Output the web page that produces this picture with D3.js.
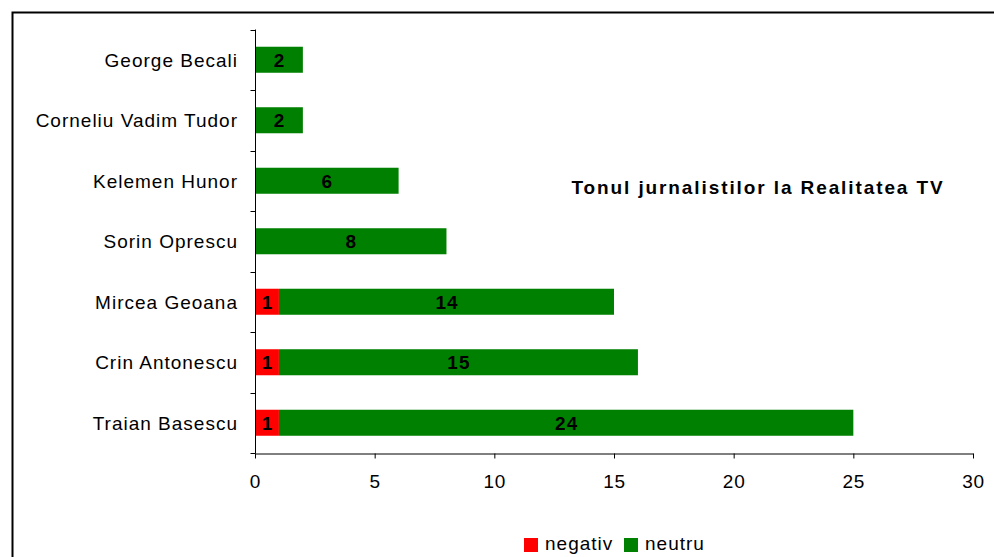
<!DOCTYPE html>
<html>
<head>
<meta charset="utf-8">
<script src="https://cdn.jsdelivr.net/npm/d3@7"></script>
<style>
  body { margin: 0; background: #fff; }
  svg text { font-family: "Liberation Sans", Arial, sans-serif; }
</style>
</head>
<body>
<div id="chart"></div>
<script>
var svgWidth = 994;
var svgHeight = 557;

var candidates = ["George Becali", "Corneliu Vadim Tudor", "Kelemen Hunor", "Sorin Oprescu",
                  "Mircea Geoana", "Crin Antonescu", "Traian Basescu"];
var negativ = [0, 0, 0, 0, 1, 1, 1];
var neutru = [2, 2, 6, 8, 14, 15, 24];
var seriesNames = ["negativ", "neutru"];
var seriesColors = ["#ff0000", "#008000"];
var xTicks = [0, 5, 10, 15, 20, 25, 30];
var title = "Tonul jurnalistilor la Realitatea TV";

var svg = d3.select("#chart")
    .append("svg")
    .attr("width", svgWidth)
    .attr("height", svgHeight);

// outer frame
svg.append("rect")
    .attr("x", 12.5)
    .attr("y", 12.5)
    .attr("width", 1000)
    .attr("height", 600)
    .attr("fill", "none")
    .attr("stroke", "#000")
    .attr("stroke-width", 2);

var xScale = d3.scaleLinear()
    .domain([0, 30])
    .range([255, 973]);

var yScale = d3.scaleBand()
    .domain(candidates)
    .range([29.5, 453])
    .paddingInner(0.57)
    .paddingOuter(0.285);

var rows = candidates.map((c, i) => ({ name: c, negativ: negativ[i], neutru: neutru[i] }));
var stacked = d3.stack().keys(seriesNames)(rows);

var bars = svg.append("g");
stacked.forEach((layer, li) => {
    var g = bars.append("g").attr("fill", seriesColors[li]);
    g.selectAll("rect")
        .data(layer.filter(d => d[1] > d[0]))
        .enter()
        .append("rect")
        .attr("x", d => xScale(d[0]))
        .attr("width", d => xScale(d[1]) - xScale(d[0]))
        .attr("y", d => yScale(d.data.name))
        .attr("height", yScale.bandwidth());
    bars.selectAll(null)
        .data(layer.filter(d => d[1] > d[0]))
        .enter()
        .append("text")
        .attr("x", d => xScale((d[0] + d[1]) / 2) + 0.5)
        .attr("y", d => yScale(d.data.name) + yScale.bandwidth() / 2)
        .attr("dy", "0.36em")
        .attr("text-anchor", "middle")
        .attr("font-weight", "bold")
        .attr("font-size", "19px")
        .attr("letter-spacing", "1px")
        .attr("fill", "#000")
        .text(d => d[1] - d[0]);
});

// axes
var bottomAxis = d3.axisBottom(xScale).tickValues(xTicks).tickSize(5).tickSizeOuter(0).tickPadding(16);
var xAxisG = svg.append("g")
    .attr("transform", "translate(0,453.5)")
    .call(bottomAxis);
xAxisG.selectAll("text")
    .attr("font-size", "19px")
    .attr("letter-spacing", "0.8px")
    .attr("fill", "#000");
xAxisG.selectAll("line, path").attr("stroke", "#000");

// y axis with ticks at band edges
var yAxisG = svg.append("g").attr("transform", "translate(255.5,0)");
yAxisG.append("line")
    .attr("y1", 29.5).attr("y2", 453.5)
    .attr("stroke", "#000");
var edges = candidates.map(c => yScale(c) - yScale.step() * yScale.paddingInner() / 2);
edges.push(453);
yAxisG.selectAll(".edge")
    .data(edges)
    .enter()
    .append("line")
    .attr("x1", -5).attr("x2", 0)
    .attr("y1", d => Math.round(d) + 0.5).attr("y2", d => Math.round(d) + 0.5)
    .attr("stroke", "#000");
svg.append("g").selectAll("text")
    .data(candidates)
    .enter()
    .append("text")
    .attr("x", 238)
    .attr("y", d => yScale(d) + yScale.bandwidth() / 2)
    .attr("dy", "0.36em")
    .attr("text-anchor", "end")
    .attr("font-size", "19px")
    .attr("letter-spacing", "1px")
    .attr("fill", "#000")
    .text(d => d);

// title
svg.append("text")
    .attr("x", 758)
    .attr("y", 187)
    .attr("dy", "0.36em")
    .attr("text-anchor", "middle")
    .attr("font-weight", "bold")
    .attr("font-size", "19px")
    .attr("letter-spacing", "1.9px")
    .text(title);

// legend
var legendX = [524, 624];
var legend = svg.append("g");
seriesNames.forEach((s, i) => {
    legend.append("rect")
        .attr("x", legendX[i])
        .attr("y", 538)
        .attr("width", 14)
        .attr("height", 14)
        .attr("fill", seriesColors[i]);
    legend.append("text")
        .attr("x", legendX[i] + 21)
        .attr("y", 550)
        .attr("font-size", "19px")
        .attr("letter-spacing", "1px")
        .attr("fill", "#000")
        .text(s);
});
</script>
</body>
</html>
